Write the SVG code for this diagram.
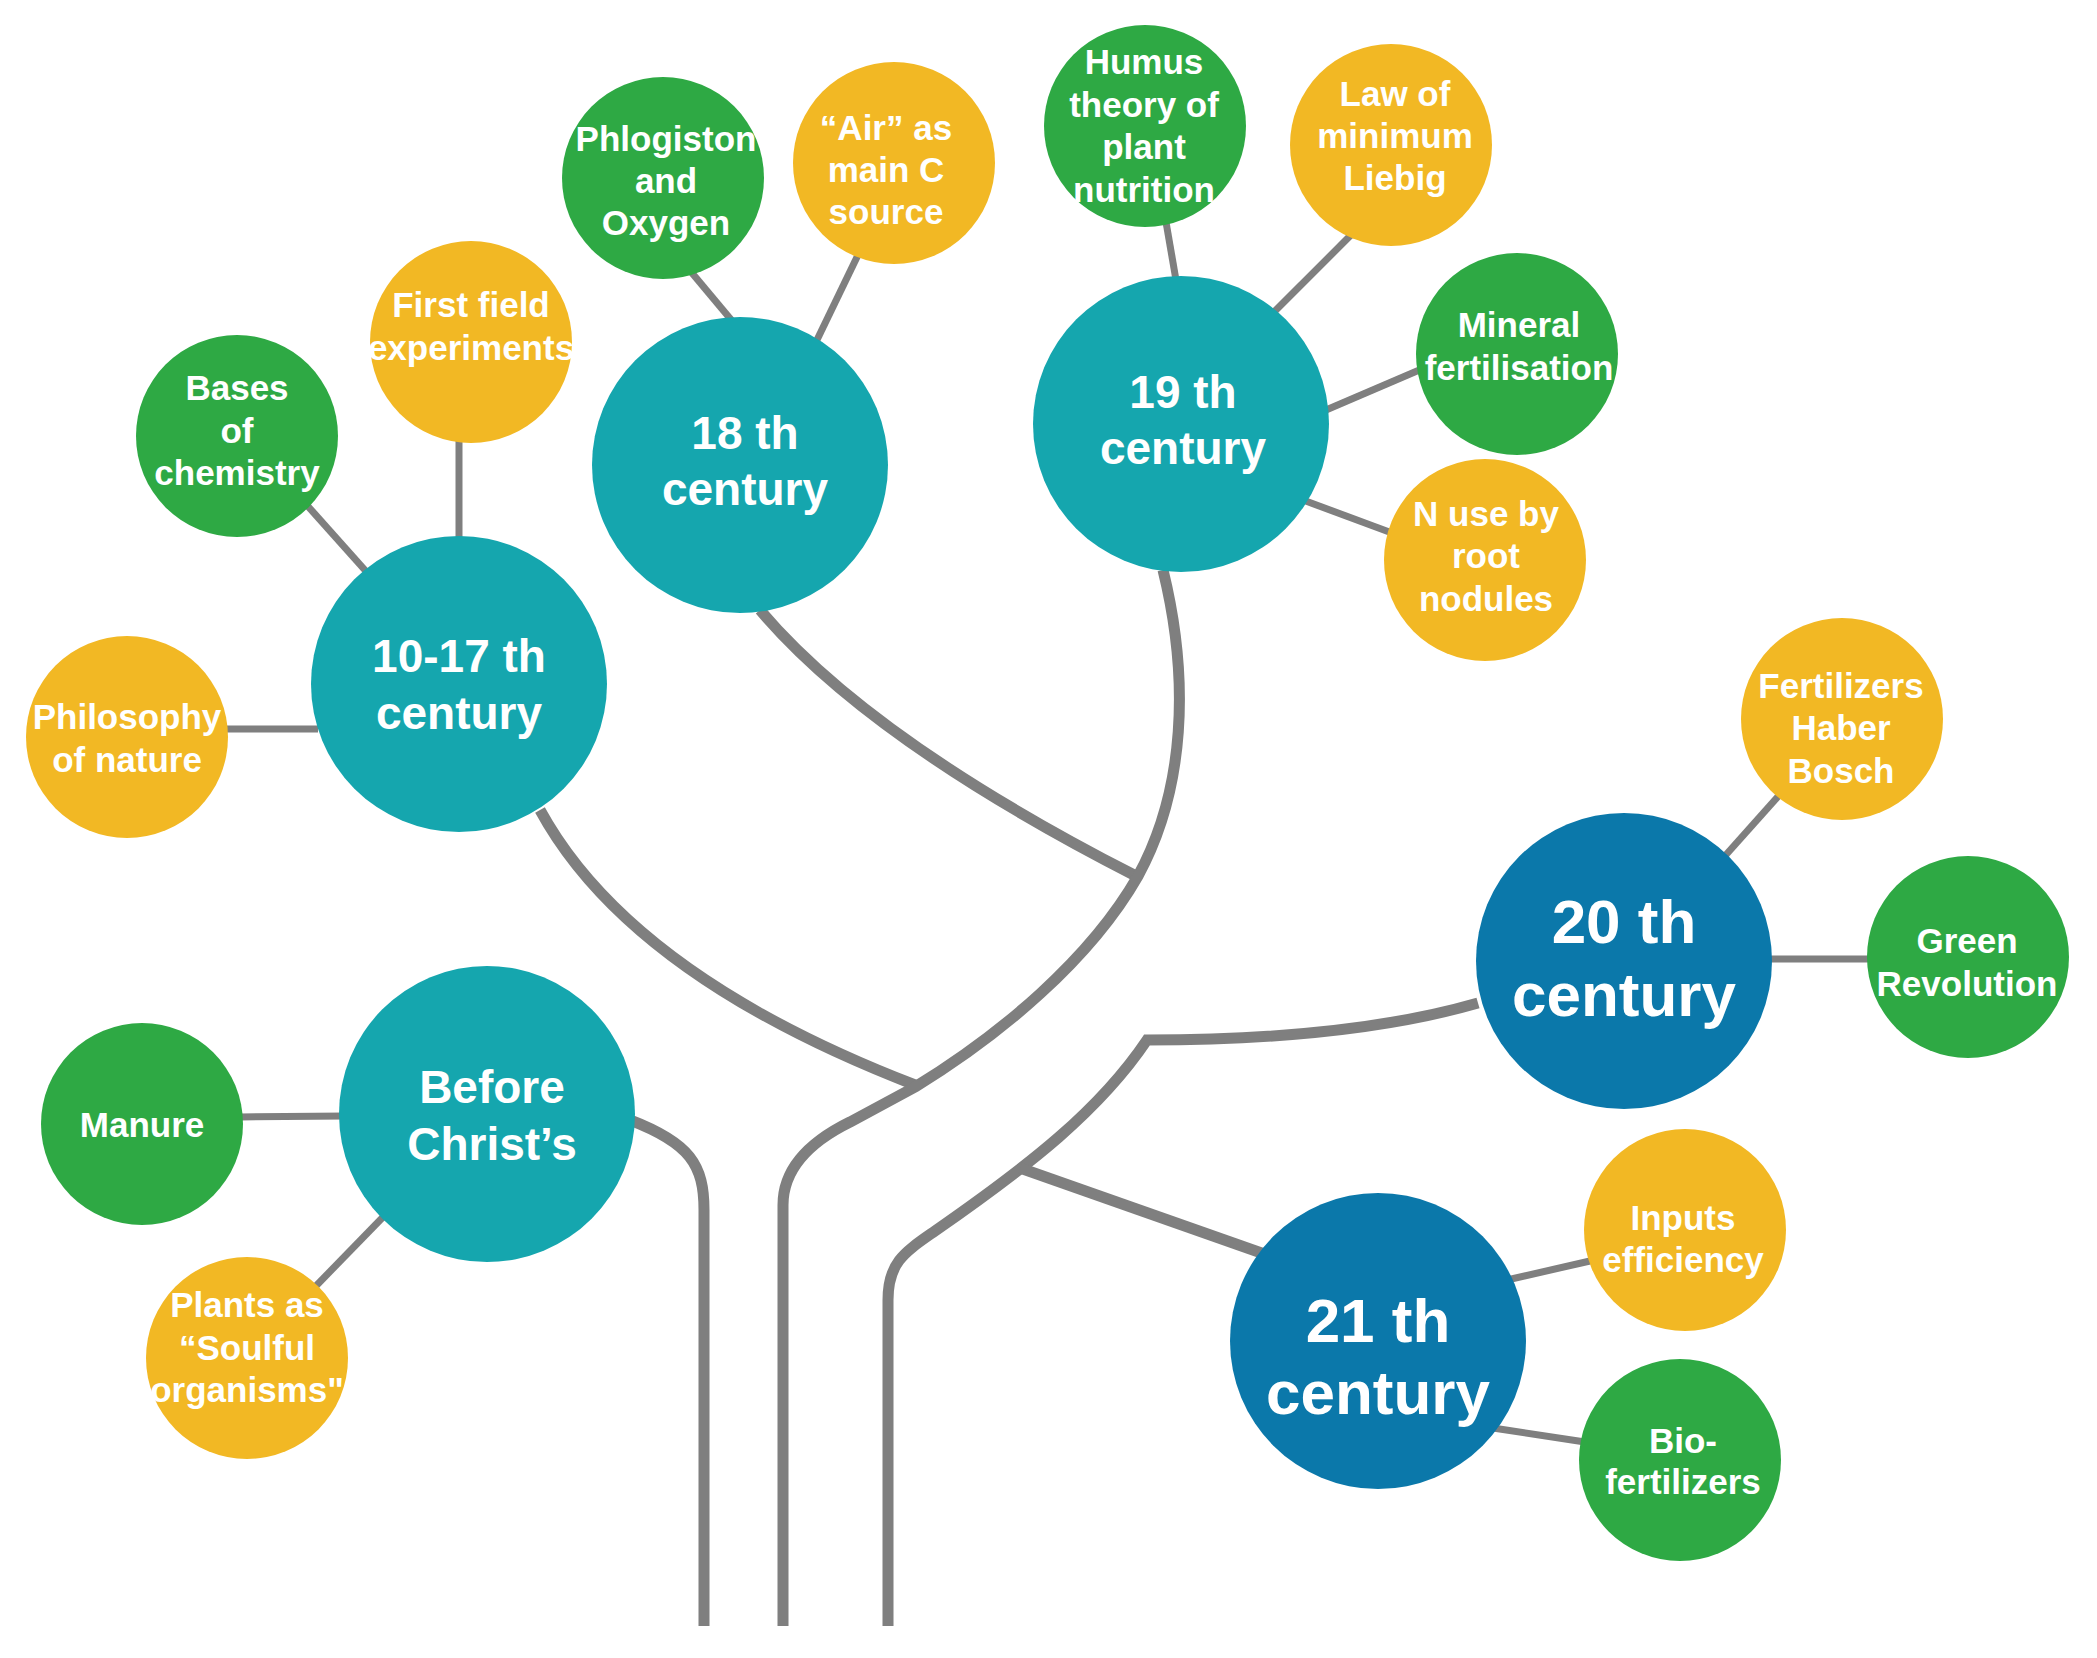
<svg xmlns="http://www.w3.org/2000/svg" width="2097" height="1658" viewBox="0 0 2097 1658">
<style>
.br{fill:none;stroke:#7f7f7f;stroke-width:11;stroke-linejoin:miter;stroke-linecap:butt}
.sp{fill:none;stroke:#7f7f7f;stroke-width:7}
.teal{fill:#15a6ae}
.blue{fill:#0b78aa}
.green{fill:#2ea944}
.yellow{fill:#f2b824}
text{font-family:"Liberation Sans",Arial,sans-serif;font-weight:bold;fill:#ffffff;text-anchor:middle}
.s{font-size:35px}
.m{font-size:46px}
.l{font-size:62px}
</style>
<rect width="2097" height="1658" fill="#ffffff"/>
<g id="connectors">
<path class="br" d="M540 810 Q630 975 915 1085"/>
<path class="br" d="M760 610 Q870 740 1136 876"/>
<path class="br" d="M1163 570 C1190 680 1185 790 1138 876 C1090 960 1000 1035 915 1087 L850 1122 Q783 1155 783 1205 L783 1626"/>
<path class="br" d="M630 1120 C690 1143 704 1165 704 1210 L704 1626"/>
<path class="br" d="M888 1626 L888 1300 C888 1262 905 1252 935 1231 C1030 1165 1100 1110 1147 1040 Q1350 1040 1478 1003"/>
<path class="br" d="M1020 1168 L1270 1256"/>
<line class="sp" x1="305" y1="503" x2="372" y2="578"/>
<line class="sp" x1="459" y1="440" x2="459" y2="540"/>
<line class="sp" x1="224" y1="729" x2="318" y2="729"/>
<line class="sp" x1="692" y1="273" x2="733" y2="322"/>
<line class="sp" x1="858" y1="255" x2="816" y2="342"/>
<line class="sp" x1="1166" y1="222" x2="1176" y2="280"/>
<line class="sp" x1="1353" y1="233" x2="1274" y2="312"/>
<line class="sp" x1="1424" y1="368" x2="1326" y2="410"/>
<line class="sp" x1="1392" y1="533" x2="1303" y2="500"/>
<line class="sp" x1="1782" y1="792" x2="1724" y2="857"/>
<line class="sp" x1="1766" y1="959" x2="1870" y2="959"/>
<line class="sp" x1="1507" y1="1280" x2="1590" y2="1261"/>
<line class="sp" x1="1493" y1="1428" x2="1585" y2="1442"/>
<line class="sp" x1="240" y1="1117" x2="345" y2="1116"/>
<line class="sp" x1="385" y1="1215" x2="312" y2="1290"/>
</g>
<g id="n1017"><circle class="teal" cx="459" cy="684" r="148"/><text class="m" x="459" y="672">10-17 th</text><text class="m" x="459" y="729">century</text></g>
<g id="n18"><circle class="teal" cx="740" cy="465" r="148"/><text class="m" x="745" y="449">18 th</text><text class="m" x="745" y="505">century</text></g>
<g id="n19"><circle class="teal" cx="1181" cy="424" r="148"/><text class="m" x="1183" y="408">19 th</text><text class="m" x="1183" y="464">century</text></g>
<g id="nbc"><circle class="teal" cx="487" cy="1114" r="148"/><text class="m" x="492" y="1103">Before</text><text class="m" x="492" y="1160">Christ’s</text></g>
<g id="n20"><circle class="blue" cx="1624" cy="961" r="148"/><text class="l" x="1624" y="943">20 th</text><text class="l" x="1624" y="1016">century</text></g>
<g id="n21"><circle class="blue" cx="1378" cy="1341" r="148"/><text class="l" x="1378" y="1342">21 th</text><text class="l" x="1378" y="1414">century</text></g>
<g id="bases"><circle class="green" cx="237" cy="436" r="101"/><text class="s" x="237" y="400">Bases</text><text class="s" x="237" y="443">of</text><text class="s" x="237" y="485">chemistry</text></g>
<g id="firstfield"><circle class="yellow" cx="471" cy="342" r="101"/><text class="s" x="471" y="317">First field</text><text class="s" x="471" y="360">experiments</text></g>
<g id="philosophy"><circle class="yellow" cx="127" cy="737" r="101"/><text class="s" x="127" y="729">Philosophy</text><text class="s" x="127" y="772">of nature</text></g>
<g id="phlogiston"><circle class="green" cx="663" cy="178" r="101"/><text class="s" x="666" y="151">Phlogiston</text><text class="s" x="666" y="193">and</text><text class="s" x="666" y="235">Oxygen</text></g>
<g id="air"><circle class="yellow" cx="894" cy="163" r="101"/><text class="s" x="886" y="140">“Air” as</text><text class="s" x="886" y="182">main C</text><text class="s" x="886" y="224">source</text></g>
<g id="humus"><circle class="green" cx="1145" cy="126" r="101"/><text class="s" x="1144" y="74">Humus</text><text class="s" x="1144" y="117">theory of</text><text class="s" x="1144" y="159">plant</text><text class="s" x="1144" y="202">nutrition</text></g>
<g id="law"><circle class="yellow" cx="1391" cy="145" r="101"/><text class="s" x="1395" y="106">Law of</text><text class="s" x="1395" y="148">minimum</text><text class="s" x="1395" y="190">Liebig</text></g>
<g id="mineral"><circle class="green" cx="1517" cy="354" r="101"/><text class="s" x="1519" y="337">Mineral</text><text class="s" x="1519" y="380">fertilisation</text></g>
<g id="nuse"><circle class="yellow" cx="1485" cy="560" r="101"/><text class="s" x="1486" y="526">N use by</text><text class="s" x="1486" y="568">root</text><text class="s" x="1486" y="611">nodules</text></g>
<g id="haber"><circle class="yellow" cx="1842" cy="719" r="101"/><text class="s" x="1841" y="698">Fertilizers</text><text class="s" x="1841" y="740">Haber</text><text class="s" x="1841" y="783">Bosch</text></g>
<g id="greenrev"><circle class="green" cx="1968" cy="957" r="101"/><text class="s" x="1967" y="953">Green</text><text class="s" x="1967" y="996">Revolution</text></g>
<g id="inputs"><circle class="yellow" cx="1685" cy="1230" r="101"/><text class="s" x="1683" y="1230">Inputs</text><text class="s" x="1683" y="1272">efficiency</text></g>
<g id="bio"><circle class="green" cx="1680" cy="1460" r="101"/><text class="s" x="1683" y="1453">Bio-</text><text class="s" x="1683" y="1494">fertilizers</text></g>
<g id="manure"><circle class="green" cx="142" cy="1124" r="101"/><text class="s" x="142" y="1137">Manure</text></g>
<g id="plants"><circle class="yellow" cx="247" cy="1358" r="101"/><text class="s" x="247" y="1317">Plants as</text><text class="s" x="247" y="1360">“Soulful</text><text class="s" x="247" y="1402">organisms"</text></g>
</svg>
